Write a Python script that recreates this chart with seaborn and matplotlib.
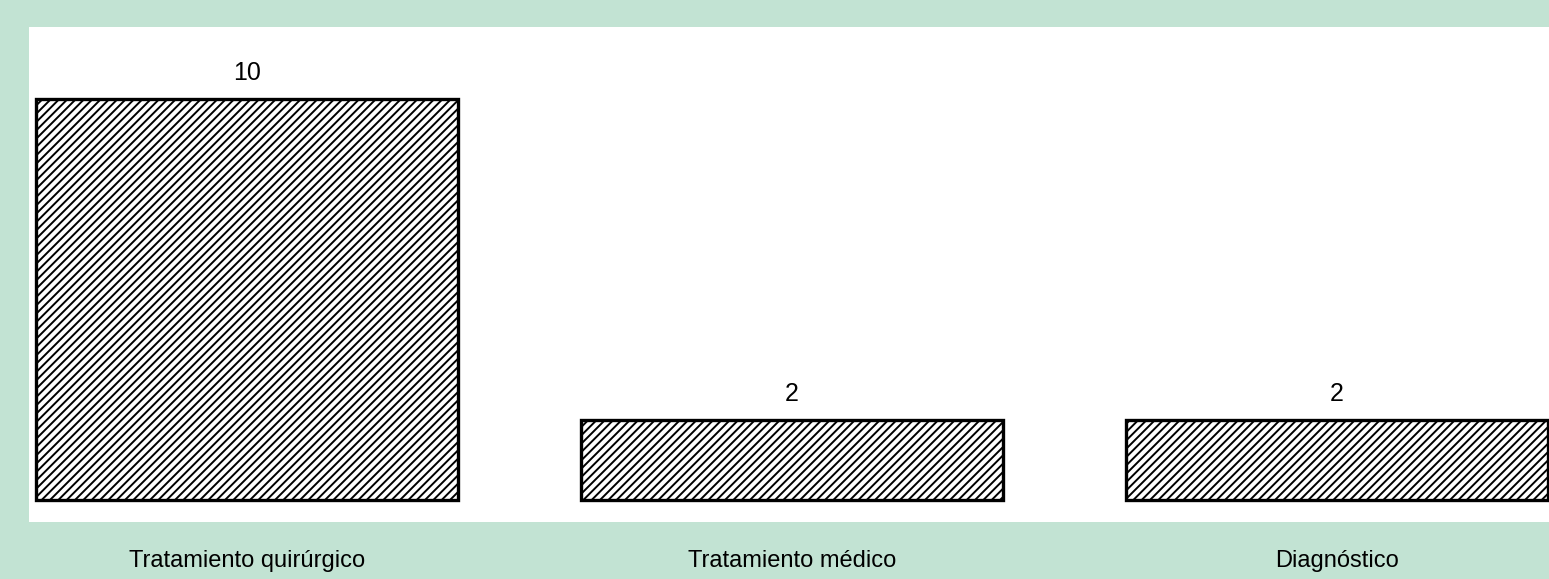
import matplotlib.pyplot as plt
import matplotlib as mpl
import seaborn as sns
import pandas as pd

# data
categorias = ['Tratamiento quirúrgico', 'Tratamiento médico', 'Diagnóstico']
valores = [10, 2, 2]

sns.set_theme(style="white")
plt.rcParams['font.family'] = ['Liberation Sans', 'DejaVu Sans']
mpl.rcParams['hatch.linewidth'] = 1.4
mpl.rcParams['hatch.color'] = 'black'
mpl.rcParams['text.color'] = 'black'
mpl.rcParams['xtick.color'] = 'black'

verde = '#c2e3d3'

fig = plt.figure(figsize=(15.49, 5.79), dpi=100, facecolor=verde)
ax = fig.add_axes([0.019, 0.098, 0.981, 0.855])
ax.set_facecolor('white')

df = pd.DataFrame({'cat': categorias, 'n': valores})
sns.barplot(data=df, x='cat', y='n', color='white', edgecolor='black',
            linewidth=2.4, width=0.775, saturation=1, ax=ax)

for p in ax.patches:
    p.set_hatch('////')

ax.bar_label(ax.containers[0], padding=10, fontsize=18, color='black')

ax.set_xlim(-0.40, 2.39)
ax.set_ylim(-0.55, 11.8)
ax.set_xlabel('')
ax.set_ylabel('')
ax.set_yticks([])
ax.tick_params(axis='x', length=0, pad=20, labelsize=17, labelcolor='black')
sns.despine(ax=ax, left=True, bottom=True, top=True, right=True)

fig.savefig('out.png', dpi=100, facecolor=verde)
